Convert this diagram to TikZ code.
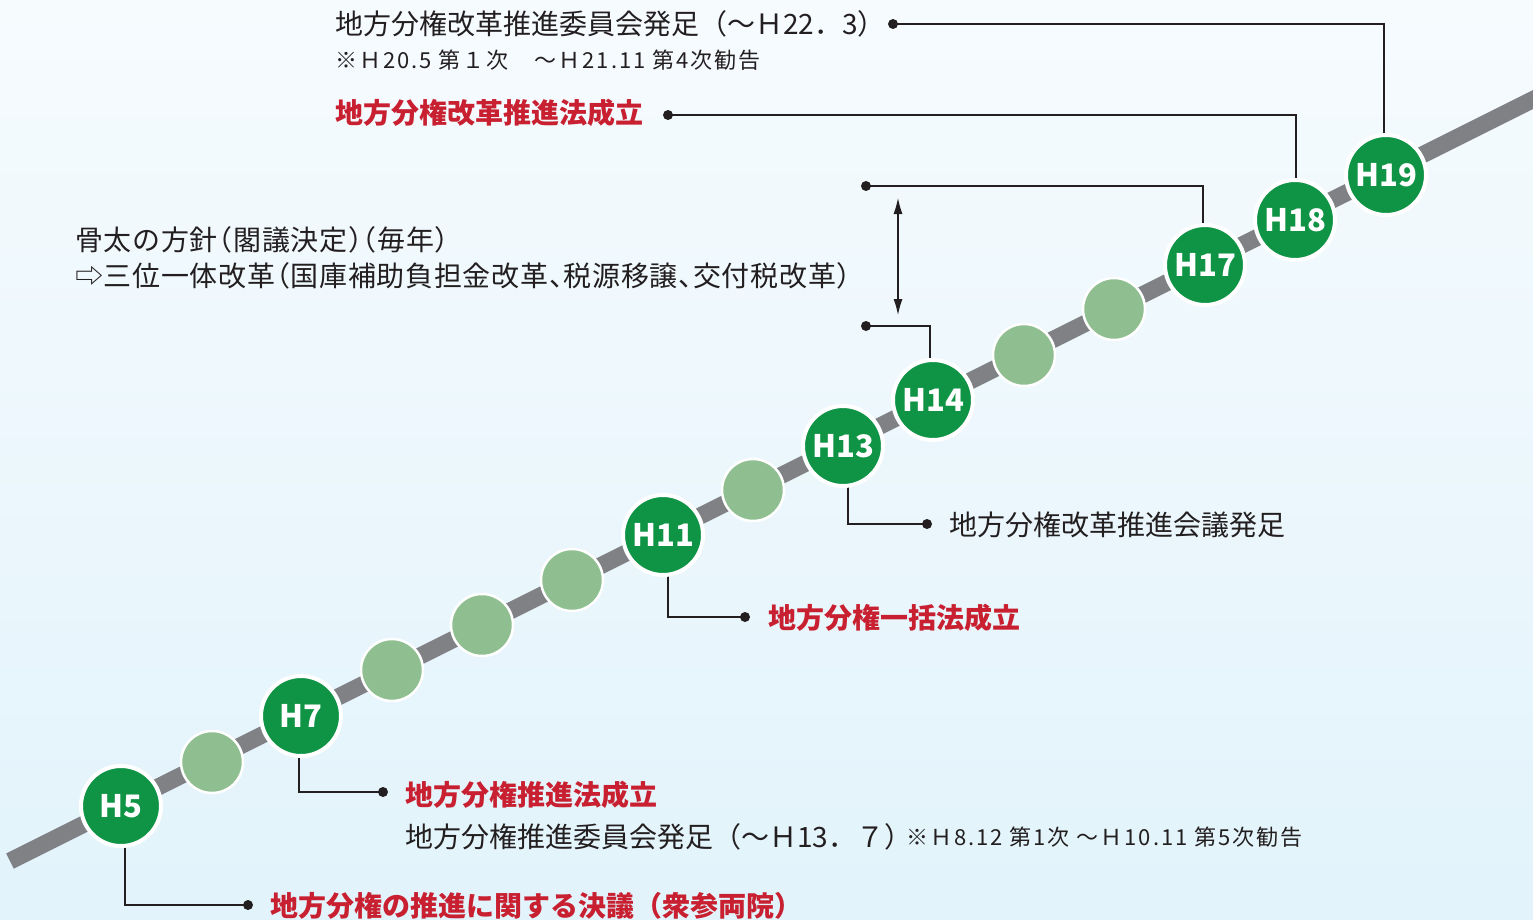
\documentclass[tikz,border=0pt]{standalone}
\usepackage{fontspec}
\newfontfamily\jp{Noto Sans CJK JP}
\newfontfamily\jph{Noto Sans CJK JP}[RawFeature=+halt, LetterSpace=2.5]
\newfontfamily\jps{Noto Sans CJK JP}[LetterSpace=9]
\usetikzlibrary{arrows.meta}
\pgfdeclarelayer{bglayer}
\pgfdeclarelayer{linelayer}
\pgfsetlayers{bglayer,linelayer,main}
\definecolor{dkgreen}{RGB}{14,148,68}
\definecolor{ltgreen}{RGB}{143,191,144}
\definecolor{railgray}{RGB}{128,129,133}
\definecolor{txtcol}{RGB}{35,31,32}
\definecolor{redtxt}{RGB}{200,32,48}
\definecolor{bgtop}{RGB}{246,251,254}
\definecolor{bgbot}{RGB}{226,243,251}
\tikzset{
  hc/.style={circle, fill=dkgreen, draw=white, line width=4pt, minimum size=80pt, inner sep=0pt,
    text=white, font=\jp\bfseries\fontsize{31}{31}\selectfont},
  lc/.style={circle, fill=ltgreen, draw=white, line width=2.5pt, minimum size=62pt, inner sep=0pt},
  txt/.style={anchor=base west, inner sep=0pt, text=txtcol, font=\jp\fontsize{28}{34}\selectfont},
  redt/.style={anchor=base west, inner sep=0pt, text=redtxt, font=\jp\bfseries\fontsize{28}{34}\selectfont},
  smallt/.style={anchor=base west, inner sep=0pt, text=txtcol, font=\jps\fontsize{22}{26}\selectfont},
  leader/.style={draw=txtcol, line width=1.3pt},
  dotc/.style={fill=txtcol}
}
\begin{document}
\begin{tikzpicture}[x=1pt,y=-1pt]
\useasboundingbox (0,0) rectangle (1533,920);
\clip (0,0) rectangle (1533,920);
\begin{pgfonlayer}{bglayer}
\shade[top color=bgtop,bottom color=bgbot] (0,0) rectangle (1533,920);
\end{pgfonlayer}
% circles
\node[hc] (h5) at (121,806) {H5};
\node[lc] (l6) at (212,762) {};
\node[hc] (h7) at (301,716) {H7};
\node[lc] (l8) at (392,670) {};
\node[lc] (l9) at (482,625) {};
\node[lc] (l10) at (572,580) {};
\node[hc] (h11) at (663,535) {H11};
\node[lc] (l12) at (753,490) {};
\node[hc] (h13) at (843,446) {H13};
\node[hc] (h14) at (933,400) {H14};
\node[lc] (l15) at (1024,355) {};
\node[lc] (l16) at (1114,309) {};
\node[hc] (h17) at (1205,265) {H17};
\node[hc] (h18) at (1295,220) {H18};
\node[hc] (h19) at (1386,175) {H19};
% dot coordinates
\coordinate (d19) at (893,24);
\coordinate (d18) at (668,115);
\coordinate (d17) at (866,186);
\coordinate (d14) at (866,326);
\coordinate (d13) at (927,524);
\coordinate (d11) at (745,617);
\coordinate (d7) at (383,792);
\coordinate (d5) at (248,905);
\coordinate (arrT) at (898,198);
\coordinate (arrB) at (898,315);
\begin{pgfonlayer}{linelayer}
% rail
\draw[railgray, line width=17pt] (10,861) -- (1550,91);
% leaders
\draw[leader] (d19) -| ([xshift=-2pt]h19.center);
\draw[leader] (d18) -| ([xshift=1pt]h18.center);
\draw[leader] (d17) -| ([xshift=-2pt]h17.center);
\draw[leader] (d14) -| ([xshift=-3pt]h14.center);
\draw[leader] ([xshift=5pt]h13.center) |- (d13);
\draw[leader] ([xshift=5pt]h11.center) |- (d11);
\draw[leader] ([xshift=-2pt]h7.center) |- (d7);
\draw[leader] ([xshift=4pt]h5.center) |- (d5);
\end{pgfonlayer}
\foreach \d in {d19,d18,d17,d14,d13,d11,d7,d5} \fill[dotc] (\d) circle (5pt);
\draw[leader, line width=1.1pt, {Latex[length=16pt,width=9pt]}-{Latex[length=16pt,width=9pt]}] (arrT) -- (arrB);
% texts
\node[txt] (t19) at (335,35) {地方分権改革推進委員会発足（～Ｈ22．3）};
\node[smallt] (t19b) at (335,69) {※Ｈ20.5 第１次　～Ｈ21.11 第4次勧告};
\node[redt] (t18) at (335,124) {地方分権改革推進法成立};
\node[txt, font=\jph\fontsize{28}{34}\selectfont] (th1) at (75,250) {骨太の方針（閣議決定）（毎年）};
\node[txt, font=\jph\fontsize{28}{34}\selectfont] (th2) at (75,286) {⇨三位一体改革（国庫補助負担金改革、税源移譲、交付税改革）};
\node[txt] (t13) at (949,535) {地方分権改革推進会議発足};
\node[redt] (t11) at (768,628) {地方分権一括法成立};
\node[redt] (t7) at (405,805) {地方分権推進法成立};
\node[txt] (t7b) at (405,847) {地方分権推進委員会発足（～Ｈ13．７）};
\node[smallt, font=\jps\fontsize{22}{26}\selectfont] (t7c) at (906,845) {※Ｈ8.12 第1次 ～Ｈ10.11 第5次勧告};
\node[redt] (t5) at (270,916) {地方分権の推進に関する決議（衆参両院）};
\end{tikzpicture}
\end{document}
